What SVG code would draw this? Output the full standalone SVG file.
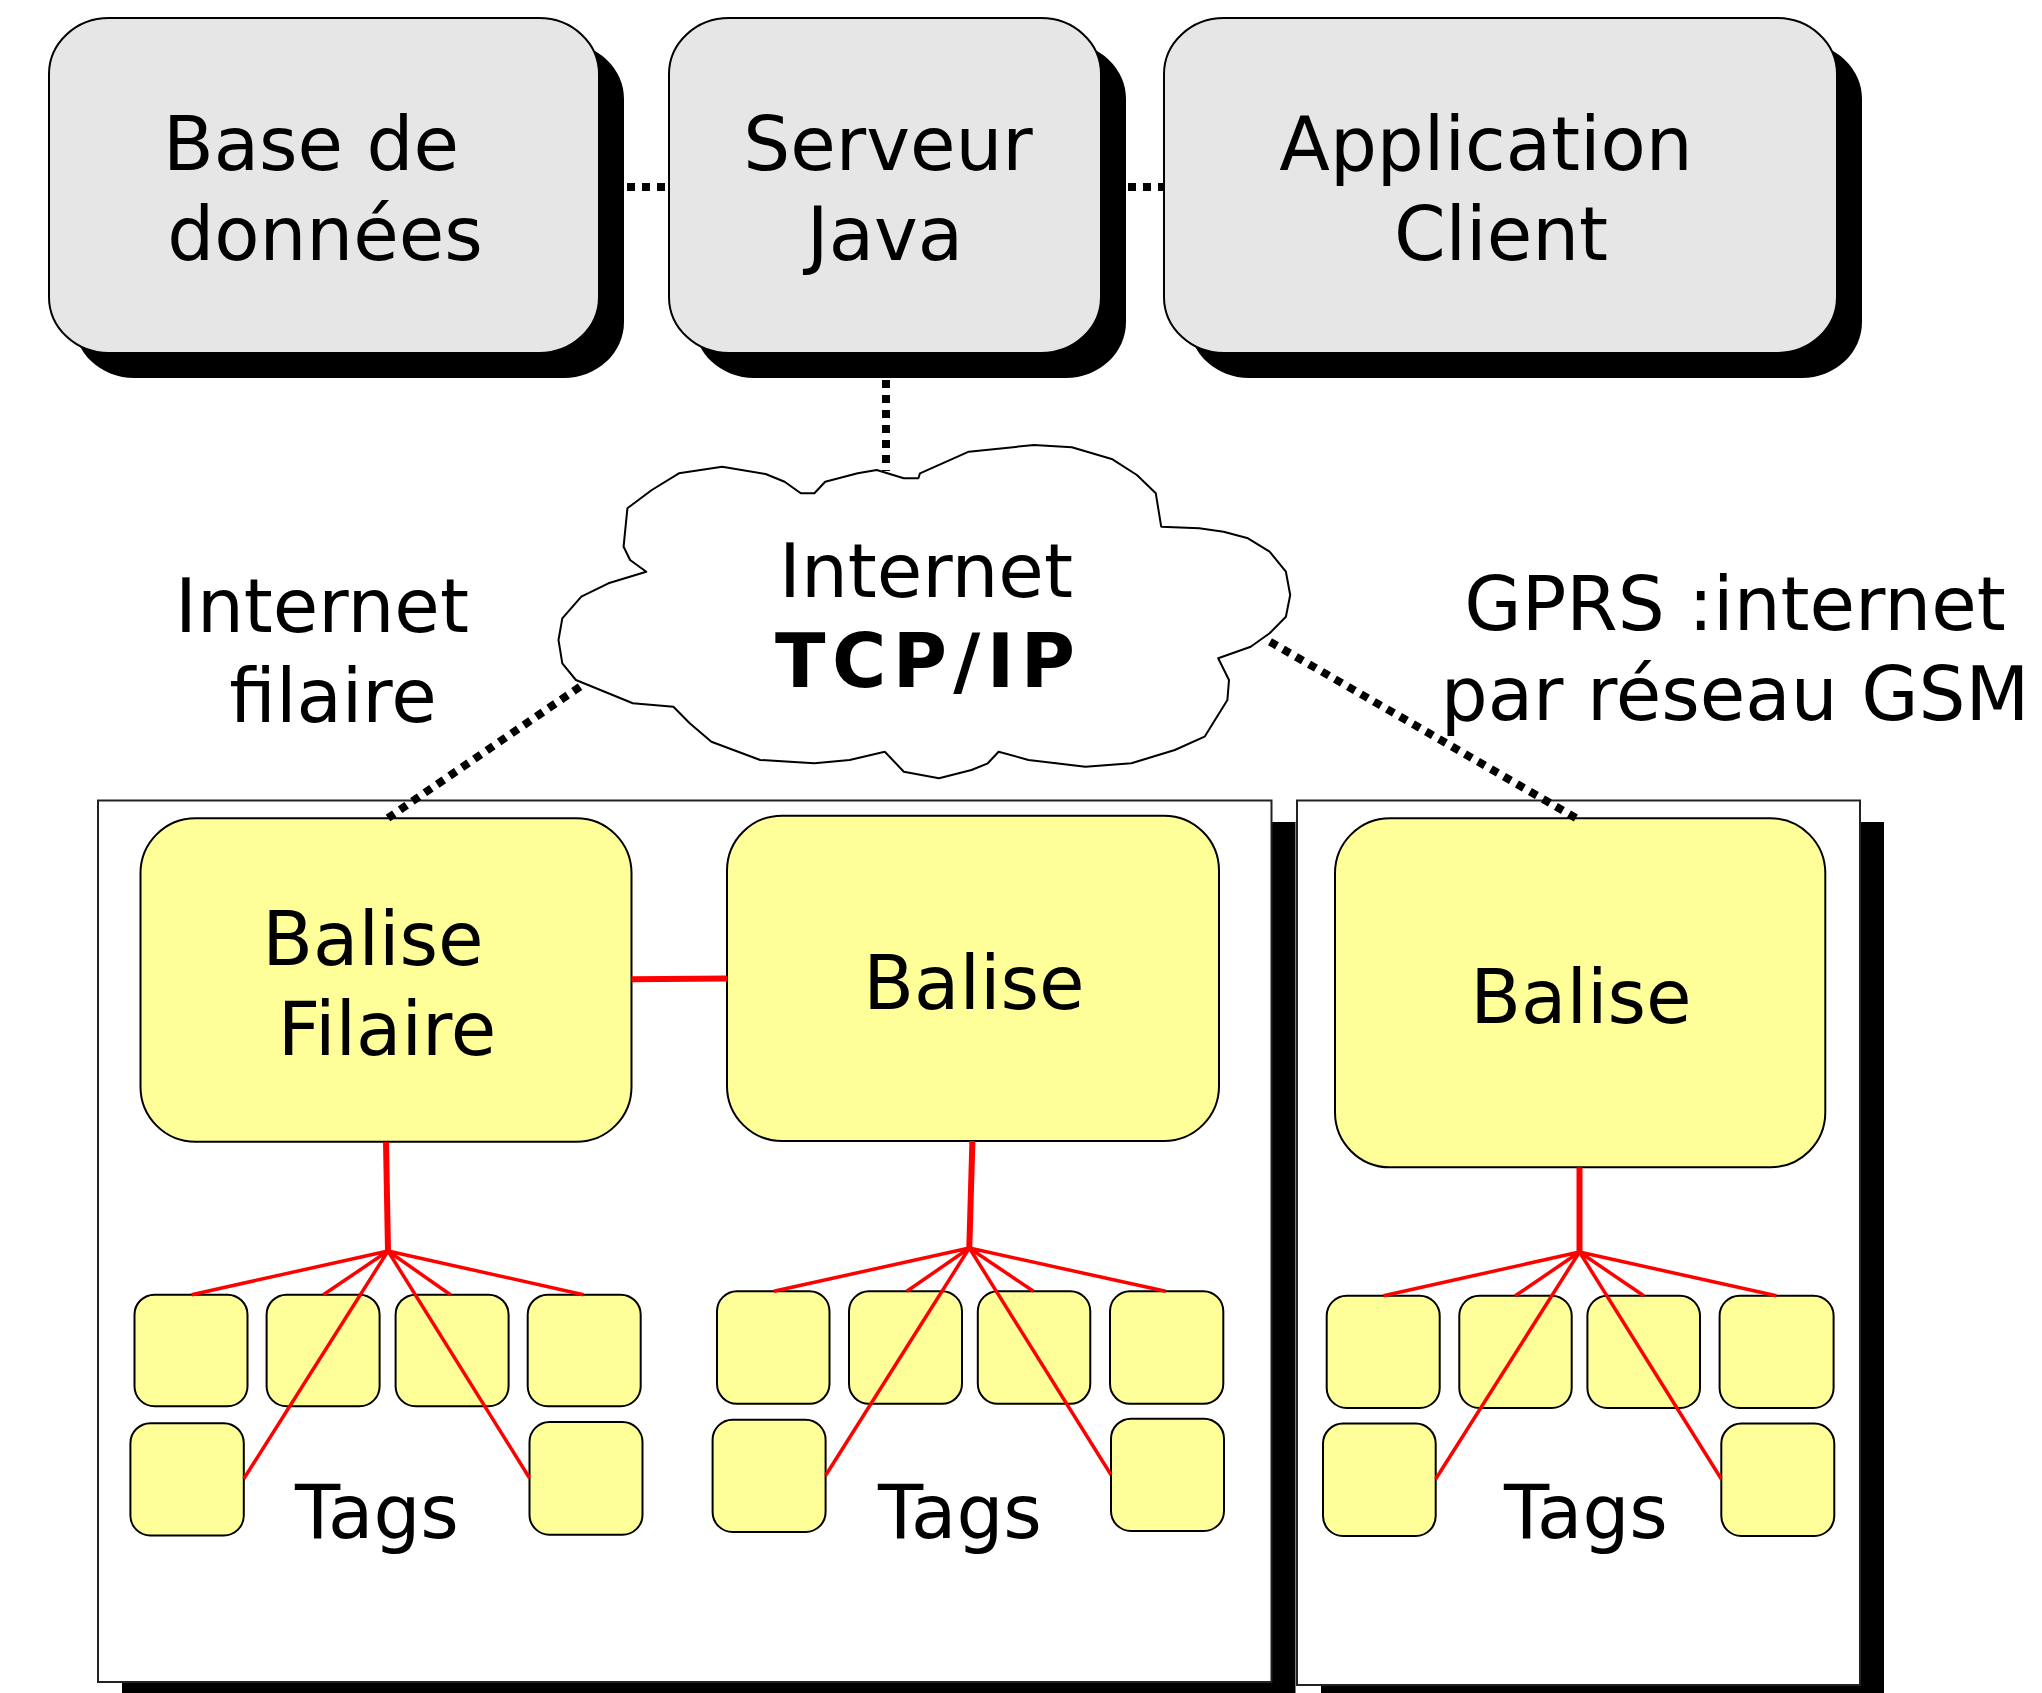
<svg xmlns="http://www.w3.org/2000/svg" width="2042" height="1693" viewBox="0 0 2042 1693">
<style>
text{font-family:"DejaVu Sans",Verdana,"Liberation Sans",sans-serif;font-size:74px;fill:#000;text-anchor:middle}
.b{font-weight:bold}
.top{fill:#e6e6e6;stroke:#000;stroke-width:2}
.sh{fill:#000}
.cont{fill:#fff;stroke:#222;stroke-width:2}
.bal{fill:#ffff99;stroke:#000;stroke-width:2}
.tag{fill:#ffff99;stroke:#000;stroke-width:2}
.dot{fill:none;stroke:#000;stroke-width:8;stroke-dasharray:8 7}
.red{fill:none;stroke:#ff0000;stroke-width:3.5}
.redT{fill:none;stroke:#ff0000;stroke-width:6}
</style>
<rect width="2042" height="1693" fill="#fff"/>

<g id="zone-filaire">
<rect class="sh" x="122" y="822" width="1173.5" height="882"/>
<rect class="cont" x="98" y="800.5" width="1173.5" height="881.5"/>
</g>
<g id="zone-gprs">
<rect class="sh" x="1321" y="822" width="563" height="885"/>
<rect class="cont" x="1297" y="800.5" width="563" height="884.5"/>
</g>

<g id="cloud">
<path fill="#fff" stroke="#000" stroke-width="2" stroke-linejoin="round" d="M876.7,470 L903.8,478.3 L918.4,478.3 L920,473.3 L968.8,451.7 L1033.9,445 L1071.8,447.3 L1112.5,459.3 L1136.9,475 L1155.8,493.3 L1161.2,526.7 L1199.2,528.3 L1223.6,531.7 L1248,538.3 L1269.6,551.7 L1285.9,571.7 L1290.2,595 L1285.9,616.7 L1269.6,633.3 L1250.7,646.7 L1218.2,658.3 L1229,680 L1227.4,700 L1204.6,736.7 L1174.8,750 L1131.4,763.3 L1085.4,766.7 L1028.5,760 L998.6,751.7 L987.8,763.3 L971.5,770 L939,778.3 L903.8,771.7 L884.8,751.7 L849.6,760 L814.4,763.3 L760.2,760 L711.4,741.7 L689.7,723.3 L673.4,706.7 L632.8,703.3 L575.9,680 L562.3,663.3 L558.5,640 L562.3,618.3 L581.3,596.7 L608.4,583.3 L646.3,571.7 L630.1,560 L623.6,546.7 L627.4,508.3 L651.8,490 L678.9,473.3 L722.2,466.7 L765.6,474 L784.6,481.7 L800.8,493.3 L814.4,493.3 L825.2,481.7 L857.7,473.3 Z"/>
<text x="926" y="597">Internet</text>
<text class="b" x="925" y="687" textLength="300" lengthAdjust="spacing">TCP/IP</text>
</g>

<g id="label-filaire">
<text x="322" y="632">Internet</text>
<text x="333" y="722">filaire</text>
</g>
<g id="label-gprs">
<text x="1735" y="630">GPRS :internet</text>
<text x="1735" y="720">par réseau GSM</text>
</g>

<g id="base-de-donnees">
<rect class="sh" x="74" y="43" width="550" height="335" rx="60" ry="56"/>
<rect class="top" x="49" y="18" width="550" height="335" rx="60" ry="56"/>
<text x="311" y="170">Base de</text>
<text x="325" y="260">données</text>
</g>
<g id="serveur-java">
<rect class="sh" x="694" y="43" width="432" height="335" rx="60" ry="56"/>
<rect class="top" x="669" y="18" width="432" height="335" rx="60" ry="56"/>
<text x="888" y="170">Serveur</text>
<text x="885" y="260">Java</text>
</g>
<g id="application-client">
<rect class="sh" x="1189" y="43" width="673" height="335" rx="60" ry="56"/>
<rect class="top" x="1164" y="18" width="673" height="335" rx="60" ry="56"/>
<text x="1486" y="170">Application</text>
<text x="1501" y="260">Client</text>
</g>

<g id="balise-filaire">
<rect class="bal" x="140.5" y="818.3" width="491" height="323.4" rx="55"/>
<text x="373" y="965">Balise</text>
<text x="387" y="1055">Filaire</text>
</g>
<g id="balise-centre">
<rect class="bal" x="727" y="815.7" width="492" height="325.3" rx="55"/>
<text x="974" y="1009">Balise</text>
</g>
<g id="balise-gprs">
<rect class="bal" x="1335" y="818.3" width="490.3" height="349" rx="55"/>
<text x="1581" y="1023">Balise</text>
</g>

<g id="tags-filaire">
<rect class="tag" x="134.5" y="1294.7" width="113" height="111.5" rx="20"/>
<rect class="tag" x="266.6" y="1294.7" width="113" height="111.5" rx="20"/>
<rect class="tag" x="395.6" y="1294.7" width="113" height="111.5" rx="20"/>
<rect class="tag" x="527.7" y="1294.7" width="113" height="111.5" rx="20"/>
<rect class="tag" x="130.4" y="1423.2" width="113.4" height="112.3" rx="20"/>
<rect class="tag" x="529.5" y="1422" width="113" height="112.7" rx="20"/>
<text x="377" y="1538">Tags</text>
</g>
<g id="tags-centre">
<rect class="tag" x="717" y="1291.3" width="112.5" height="112.5" rx="20"/>
<rect class="tag" x="849" y="1291.3" width="113" height="112.5" rx="20"/>
<rect class="tag" x="977.8" y="1291.3" width="112.5" height="112.5" rx="20"/>
<rect class="tag" x="1110" y="1291.3" width="113.3" height="112.5" rx="20"/>
<rect class="tag" x="712.6" y="1419.8" width="113" height="112.2" rx="20"/>
<rect class="tag" x="1111" y="1418.7" width="113" height="112.3" rx="20"/>
<text x="960" y="1538">Tags</text>
</g>
<g id="tags-gprs">
<rect class="tag" x="1326.7" y="1295.8" width="113" height="112.2" rx="20"/>
<rect class="tag" x="1459.3" y="1295.8" width="112.4" height="112.2" rx="20"/>
<rect class="tag" x="1587.4" y="1295.8" width="112.6" height="112.2" rx="20"/>
<rect class="tag" x="1719.6" y="1295.8" width="114" height="112.2" rx="20"/>
<rect class="tag" x="1323" y="1423.6" width="112.7" height="112.4" rx="20"/>
<rect class="tag" x="1721.3" y="1423.6" width="113" height="112.4" rx="20"/>
<text x="1586" y="1538">Tags</text>
</g>

<g id="connectors">
<line class="dot" x1="627" y1="187" x2="669" y2="187"/>
<line class="dot" x1="1128" y1="187" x2="1164" y2="187"/>
<line class="dot" x1="886" y1="380" x2="886" y2="471"/>
<line class="dot" x1="580" y1="686.7" x2="388" y2="818"/>
<line class="dot" x1="1270" y1="641.7" x2="1576" y2="818"/>
<line class="redT" x1="631.5" y1="979.3" x2="727" y2="978.5"/>
<line class="redT" x1="386" y1="1142" x2="388" y2="1251"/>
<path class="red" d="M388,1251 L191.6,1294.7 M388,1251 L323.3,1294.7 M388,1251 L450.5,1294.7 M388,1251 L583.5,1294.7 M388,1251 L243.8,1478.8 M388,1251 L529.5,1478"/>
<line class="redT" x1="972.4" y1="1141" x2="969.3" y2="1248"/>
<path class="red" d="M969.3,1248 L773.7,1291.3 M969.3,1248 L906.8,1291.3 M969.3,1248 L1033.5,1291.3 M969.3,1248 L1165.7,1291.3 M969.3,1248 L825.6,1475.5 M969.3,1248 L1111,1474.8"/>
<line class="redT" x1="1579.5" y1="1167.3" x2="1579.5" y2="1252"/>
<path class="red" d="M1579.5,1252 L1383.5,1295.8 M1579.5,1252 L1515.3,1295.8 M1579.5,1252 L1643.8,1295.8 M1579.5,1252 L1776.4,1295.8 M1579.5,1252 L1435.7,1479 M1579.5,1252 L1721.3,1479"/>
</g>
</svg>
